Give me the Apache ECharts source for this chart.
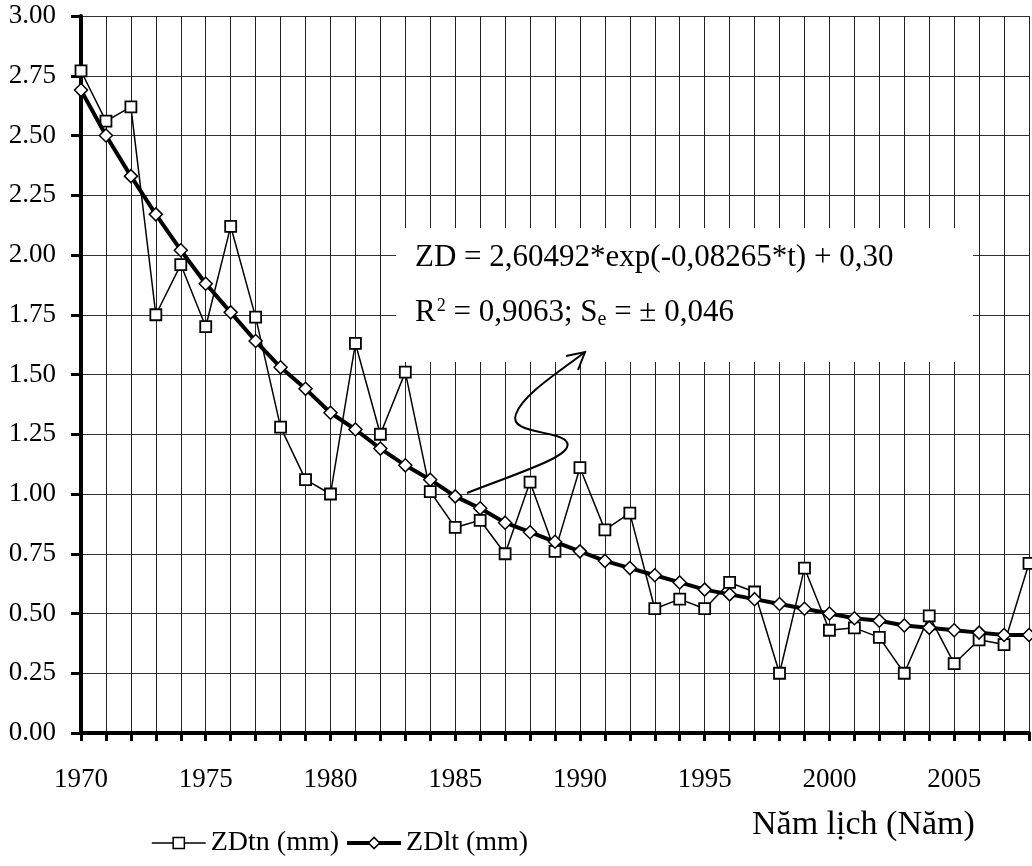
<!DOCTYPE html>
<html>
<head>
<meta charset="utf-8">
<script src="https://cdn.jsdelivr.net/npm/echarts@6/dist/echarts.min.js"></script>
<style>
html,body{margin:0;padding:0;background:#fff;}
#chart{width:1032px;height:866px;}
</style>
</head>
<body>
<div id="chart"></div>
<script>
var years = [1970,1971,1972,1973,1974,1975,1976,1977,1978,1979,
             1980,1981,1982,1983,1984,1985,1986,1987,1988,1989,
             1990,1991,1992,1993,1994,1995,1996,1997,1998,1999,
             2000,2001,2002,2003,2004,2005,2006,2007,2008];
var zdtn = [2.77,2.56,2.62,1.75,1.96,1.70,2.12,1.74,1.28,1.06,
            1.00,1.63,1.25,1.51,1.01,0.86,0.89,0.75,1.05,0.76,
            1.11,0.85,0.92,0.52,0.56,0.52,0.63,0.59,0.25,0.69,
            0.43,0.44,0.40,0.25,0.49,0.29,0.39,0.37,0.71];
var zdlt = [2.69,2.50,2.33,2.17,2.02,1.88,1.76,1.64,1.53,1.44,
            1.34,1.27,1.19,1.12,1.06,0.99,0.94,0.88,0.84,0.80,
            0.76,0.72,0.69,0.66,0.63,0.60,0.58,0.56,0.54,0.52,
            0.50,0.48,0.47,0.45,0.44,0.43,0.42,0.41,0.41];
var seriesNames = ['ZDtn (mm)', 'ZDlt (mm)'];
var xAxisTitle = 'Năm lịch (Năm)';
var eqLine1 = 'ZD = 2,60492*exp(-0,08265*t) + 0,30';
var eqLine2Parts = ['R', '2', ' = 0,9063; S', 'e', ' = ± 0,046'];

var FONT = "'Liberation Serif','Times New Roman',serif";

function pairs(vals){ return years.map(function(y,i){ return [y, vals[i]]; }); }

var mctx = document.createElement('canvas').getContext('2d');
function tw(txt, size){ mctx.font = size + "px 'Liberation Serif'"; return mctx.measureText(txt).width; }

var x0 = 415;
var mainSize = 31, supSize = 18, subSize = 20;
var xR = x0;
var xSup = xR + tw(eqLine2Parts[0], mainSize) + 1;
var xMid = xSup + tw(eqLine2Parts[1], supSize);
var xSub = xMid + tw(eqLine2Parts[2], mainSize);
var xEnd = xSub + tw(eqLine2Parts[3], subSize);

function txt(x, y, s, size){
  return {type:'text', z:10, x:x, y:y, style:{text:s, font:size+'px '+FONT, fill:'#000', verticalAlign:'middle', align:'left'}};
}
function bez(a){
  return {type:'bezierCurve', z:10, shape:{x1:a[0], y1:a[1], cpx1:a[2], cpy1:a[3], cpx2:a[4], cpy2:a[5], x2:a[6], y2:a[7]},
          style:{fill:null, stroke:'#000', lineWidth:2}};
}

var chart = echarts.init(document.getElementById('chart'), null, {renderer:'canvas'});
chart.setOption({
  animation:false,
  backgroundColor:'#fff',
  textStyle:{fontFamily:FONT},
  grid:{left:81, right:-2, top:16, bottom:133, containLabel:false},
  xAxis:{
    type:'value', min:1970, max:2008, interval:1,
    axisLine:{show:true, lineStyle:{color:'#000', width:4}},
    axisTick:{show:true, length:8, inside:false, lineStyle:{color:'#000', width:3}},
    axisLabel:{
      margin:33, fontSize:27, color:'#000', fontFamily:FONT,
      formatter:function(v){ return (v % 5 === 0) ? String(v) : ''; }
    },
    splitLine:{show:true, lineStyle:{color:'#222', width:1}}
  },
  yAxis:{
    type:'value', min:0, max:3, interval:0.25,
    axisLine:{show:true, onZero:false, lineStyle:{color:'#000', width:4}},
    axisTick:{show:true, length:10, lineStyle:{color:'#000', width:3}},
    axisLabel:{
      margin:25, fontSize:27, color:'#000', fontFamily:FONT,
      padding:[6,0,0,0],
      formatter:function(v){ return v.toFixed(2); }
    },
    splitLine:{show:true, lineStyle:{color:'#333', width:1}}
  },
  legend:{
    left:146, top:824, itemWidth:54, itemHeight:14, itemGap:6,
    textStyle:{fontSize:28, color:'#000', fontFamily:FONT},
    data:[
      {name:seriesNames[0], lineStyle:{width:1.5, color:'#000'}, itemStyle:{color:'#fff', borderColor:'#000', borderWidth:1.5}},
      {name:seriesNames[1], lineStyle:{width:4, color:'#000'}, itemStyle:{color:'#fff', borderColor:'#000', borderWidth:1.5}}
    ]
  },
  series:[
    {
      name:seriesNames[0], type:'line', data:pairs(zdtn), z:3,
      symbol:'rect', symbolSize:11,
      lineStyle:{color:'#000', width:1.5},
      itemStyle:{color:'#fff', borderColor:'#000', borderWidth:1.8}
    },
    {
      name:seriesNames[1], type:'line', data:pairs(zdlt), z:4,
      symbol:'diamond', symbolSize:[13,13],
      lineStyle:{color:'#000', width:4},
      itemStyle:{color:'#fff', borderColor:'#000', borderWidth:1.5}
    }
  ],
  graphic:[
    {type:'rect', z:1, shape:{x:396, y:228, width:577, height:134}, style:{fill:'#fff'}},
    txt(x0, 257.5, eqLine1, mainSize),
    txt(xR, 312.5, eqLine2Parts[0], mainSize),
    txt(xSup, 306, eqLine2Parts[1], supSize),
    txt(xMid, 312.5, eqLine2Parts[2], mainSize),
    txt(xSub, 320, eqLine2Parts[3], subSize),
    txt(xEnd, 312.5, eqLine2Parts[4], mainSize),
    bez([467,493, 520,472, 578,455, 566,441]),
    bez([566,441, 556,430, 508,434, 516,414]),
    bez([516,414, 523,394, 562,370, 585,352]),
    {type:'polyline', z:10, shape:{points:[[566,356],[585,352],[578,370]]}, style:{fill:null, stroke:'#000', lineWidth:2}},
    txt(752, 825, xAxisTitle, 34)
  ]
});
</script>
</body>
</html>
